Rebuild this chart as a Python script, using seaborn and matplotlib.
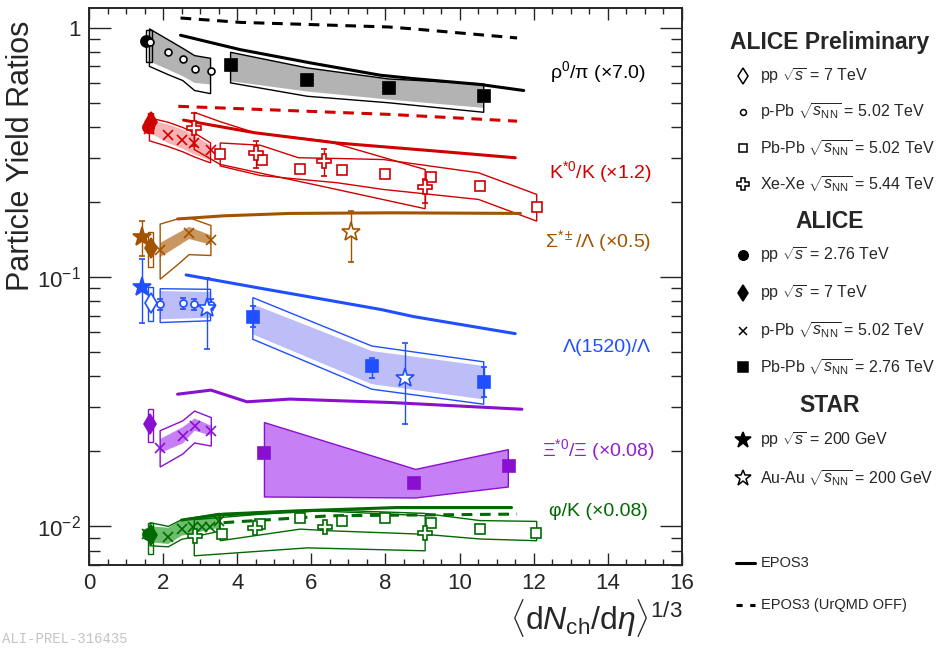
import matplotlib
matplotlib.use("Agg")
import matplotlib.pyplot as plt
import seaborn as sns
from matplotlib.patches import Rectangle
from matplotlib.ticker import FixedLocator, FixedFormatter, LogLocator, MultipleLocator, NullFormatter

# ---------------- values ----------------
# rho0/pi (x7.0)
rho_pp276_x = [1.54]
rho_pp276_y = [0.882]
rho_box = [1.62, 0.731, 0.983]
rho_ppb_x = [1.65, 2.13, 2.53, 2.85, 3.28]
rho_ppb_y = [0.880, 0.797, 0.752, 0.686, 0.673]
rho_ppb_bx = [1.63, 2.13, 2.53, 2.85, 3.28]
rho_ppb_hi = [0.990, 0.896, 0.827, 0.773, 0.754]
rho_ppb_lo = [0.733, 0.680, 0.639, 0.601, 0.592]
rho_ppb_lo_tot = [0.700, 0.649, 0.614, 0.560, 0.544]
rho_pbpb_x = [3.82, 5.89, 8.09, 10.65]
rho_pbpb_y = [0.709, 0.620, 0.574, 0.531]
rho_pbpb_hi = [0.797, 0.690, 0.623, 0.595]
rho_pbpb_lo = [0.610, 0.555, 0.515, 0.477]
rho_pbpb_lo_tot = [0.601, 0.531, 0.500, 0.458]
rho_epos_x = [2.47, 4.08, 5.97, 7.86, 8.76, 10.56, 11.73]
rho_epos_y = [0.933, 0.817, 0.723, 0.645, 0.625, 0.592, 0.560]
rho_off_x = [2.47, 4.08, 8.09, 8.76, 11.55]
rho_off_y = [1.094, 1.051, 1.007, 0.989, 0.910]

# K*0/K (x1.2)
ks_pp276_x = [1.60]
ks_pp276_y = [0.40]
ks_pp7_x = [1.66]
ks_pp7_y = [0.42]
ks_box = [1.66, 0.379, 0.456]
ks_ppb_x = [1.63, 2.13, 2.50, 2.84, 3.28]
ks_ppb_y = [0.391, 0.370, 0.356, 0.345, 0.323]
ks_ppb_bx = [1.63, 2.13, 2.53, 2.85, 3.28]
ks_ppb_hi = [0.425, 0.410, 0.390, 0.370, 0.337]
ks_ppb_lo = [0.380, 0.345, 0.327, 0.310, 0.293]
ks_ppb_hi_tot = [0.435, 0.418, 0.398, 0.378, 0.345]
ks_ppb_lo_tot = [0.352, 0.334, 0.318, 0.303, 0.287]
ks_xexe_x = [2.84, 4.51, 6.34, 9.07]
ks_xexe_y = [0.395, 0.315, 0.293, 0.230]
ks_xexe_elo = [0.335, 0.274, 0.255, 0.198]
ks_xexe_ehi = [0.456, 0.351, 0.327, 0.248]
ks_xexe_bx = [2.84, 3.54, 4.48, 6.42, 9.07]
ks_xexe_hi = [0.458, 0.420, 0.379, 0.351, 0.270]
ks_xexe_lo = [0.325, 0.283, 0.264, 0.229, 0.188]
ks_pbpb_x = [3.54, 4.67, 5.70, 6.82, 8.00, 9.23, 10.55, 12.08]
ks_pbpb_y = [0.313, 0.296, 0.272, 0.270, 0.260, 0.252, 0.232, 0.191]
ks_pbpb_bx = [3.54, 4.62, 5.65, 6.69, 7.95, 10.51, 12.08]
ks_pbpb_hi = [0.345, 0.338, 0.301, 0.299, 0.296, 0.262, 0.2145]
ks_pbpb_lo = [0.279, 0.2555, 0.247, 0.239, 0.2245, 0.2048, 0.1676]
ks_epos_x = [2.55, 4.48, 6.69, 9.38, 11.50]
ks_epos_y = [0.426, 0.379, 0.345, 0.320, 0.301]
ks_off_x = [2.41, 8.13, 11.55]
ks_off_y = [0.484, 0.449, 0.422]

# Sigma*/Lambda (x0.5)
sig_starpp_x = [1.42]
sig_starpp_y = [0.145]
sig_starpp_elo = [0.121]
sig_starpp_ehi = [0.168]
sig_pp7_x = [1.66]
sig_pp7_y = [0.131]
sig_box = [1.66, 0.110, 0.152]
sig_ppb_x = [1.92, 2.70, 3.29]
sig_ppb_y = [0.128, 0.150, 0.141]
sig_ppb_hi = [0.137, 0.159, 0.147]
sig_ppb_lo = [0.120, 0.142, 0.135]
sig_ppb_bx = [1.92, 2.39, 2.70, 3.29]
sig_ppb_hi_tot = [0.163, 0.171, 0.173, 0.161]
sig_ppb_lo_tot = [0.098, 0.112, 0.123, 0.122]
sig_auau_x = [7.06]
sig_auau_y = [0.151]
sig_auau_elo = [0.115]
sig_auau_ehi = [0.184]
sig_epos_x = [2.39, 3.62, 5.42, 8.13, 11.64]
sig_epos_y = [0.171, 0.176, 0.180, 0.181, 0.180]

# Lambda(1520)/Lambda
lam_starpp_x = [1.42]
lam_starpp_y = [0.0915]
lam_starpp_elo = [0.0657]
lam_starpp_ehi = [0.118]
lam_pp7_x = [1.66]
lam_pp7_y = [0.0789]
lam_box = [1.66, 0.0664, 0.0915]
lam_ppb_x = [1.92, 2.53, 2.84, 3.28]
lam_ppb_y = [0.0778, 0.0785, 0.0779, 0.0775]
lam_ppb_elo = [0.0740, 0.0747, 0.0741, 0.0737]
lam_ppb_ehi = [0.0816, 0.0823, 0.0817, 0.0813]
lam_ppb_bx = [1.92, 3.28]
lam_ppb_hi = [0.0879, 0.0871]
lam_ppb_lo = [0.0677, 0.0687]
lam_ppb_hi_tot = [0.0898, 0.0893]
lam_ppb_lo_tot = [0.0657, 0.0668]
lam_auau_x = [3.19, 8.53]
lam_auau_y = [0.0754, 0.0395]
lam_auau_elo = [0.0513, 0.0257]
lam_auau_ehi = [0.0994, 0.0542]
lam_pbpb_x = [4.42, 7.63, 10.65]
lam_pbpb_y = [0.0694, 0.0438, 0.0380]
lam_pbpb_elo = [0.0633, 0.0395, 0.0329]
lam_pbpb_ehi = [0.0762, 0.0475, 0.0434]
lam_pbpb_hi = [0.0778, 0.0505, 0.0440]
lam_pbpb_lo = [0.0589, 0.0372, 0.0323]
lam_pbpb_hi_tot = [0.0827, 0.0529, 0.0457]
lam_pbpb_lo_tot = [0.0563, 0.0355, 0.0309]
lam_epos_x = [2.62, 4.55, 7.86, 8.76, 11.50]
lam_epos_y = [0.102, 0.0906, 0.0742, 0.0694, 0.0593]

# Xi*0/Xi (x0.08)
xi_pp7_x = [1.65]
xi_pp7_y = [0.0257]
xi_box = [1.65, 0.0217, 0.0295]
xi_ppb_x = [1.92, 2.53, 2.85, 3.30]
xi_ppb_y = [0.0207, 0.0231, 0.0253, 0.0241]
xi_ppb_hi = [0.0224, 0.0250, 0.0271, 0.0253]
xi_ppb_lo = [0.0197, 0.0215, 0.0242, 0.0231]
xi_ppb_hi_tot = [0.0242, 0.0265, 0.0290, 0.0273]
xi_ppb_lo_tot = [0.0173, 0.0195, 0.0216, 0.0210]
xi_pbpb_x = [4.72, 8.78, 11.33]
xi_pbpb_y = [0.0197, 0.0149, 0.0175]
xi_pbpb_bx = [4.72, 8.80, 11.30]
xi_pbpb_hi = [0.0262, 0.0170, 0.0204]
xi_pbpb_lo = [0.01318, 0.01306, 0.01445]
xi_epos_x = [2.39, 3.29, 4.26, 5.42, 8.13, 11.68]
xi_epos_y = [0.0339, 0.0352, 0.0316, 0.0324, 0.0314, 0.0295]

# phi/K (x0.08)
phi_pp276_x = [1.60]
phi_pp276_y = [0.0093]
phi_pp7_x = [1.66]
phi_pp7_y = [0.0092]
phi_box = [1.65, 0.00773, 0.01035]
phi_ppb_x = [1.56, 2.14, 2.50, 2.81, 3.04, 3.26, 3.52]
phi_ppb_y = [0.0093, 0.00908, 0.00973, 0.00996, 0.00996, 0.00990, 0.01050]
phi_ppb_bx = [1.65, 2.14, 2.50, 3.52]
phi_ppb_hi = [0.0100, 0.00988, 0.0106, 0.01103]
phi_ppb_lo = [0.00863, 0.0085, 0.00917, 0.00988]
phi_ppb_hi_tot = [0.01035, 0.0100, 0.01064, 0.01128]
phi_ppb_lo_tot = [0.00836, 0.00828, 0.00887, 0.00956]
phi_xexe_x = [2.86, 4.48, 6.37, 9.07]
phi_xexe_y = [0.00917, 0.00988, 0.00996, 0.00945]
phi_xexe_bx = [2.84, 5.90, 9.07]
phi_xexe_hi = [0.01064, 0.0116, 0.01103]
phi_xexe_lo = [0.00762, 0.0082, 0.00798]
phi_pbpb_x = [3.58, 4.62, 5.68, 6.82, 8.00, 9.23, 10.55, 12.07]
phi_pbpb_y = [0.0093, 0.0102, 0.0108, 0.01047, 0.0108, 0.0103, 0.00973, 0.0094]
phi_pbpb_bx = [3.54, 5.70, 6.51, 9.03, 10.55, 12.08]
phi_pbpb_hi = [0.01103, 0.0114, 0.01162, 0.01128, 0.01055, 0.01047]
phi_pbpb_lo = [0.00876, 0.00975, 0.0096, 0.0093, 0.0089, 0.00876]
phi_epos_x = [2.50, 3.63, 5.60, 8.30, 11.40]
phi_epos_y = [0.0106, 0.0112, 0.01154, 0.0119, 0.0119]
phi_off_x = [3.63, 6.51, 11.55]
phi_off_y = [0.01035, 0.01103, 0.0112]

# species labels (text, x, y, colour)
labels = [
    (r"ρ$^{0}$/π (×7.0)", 15.04, 0.667, "black"),
    (r"K$^{*0}$/K (×1.2)", 15.17, 0.263, "#d10000"),
    (r"Σ$^{*\pm}$/Λ (×0.5)", 15.17, 0.139, "#a35200"),
    (r"Λ(1520)/Λ", 15.17, 0.0523, "#1f4fff"),
    (r"Ξ$^{*0}$/Ξ (×0.08)", 15.28, 0.0202, "#9020d0"),
    (r"φ/K (×0.08)", 15.09, 0.0115, "#006a00"),
]

RED, PINK = "#d10000", "#f7b3b3"
BROWN, TAN = "#a35200", "#c9975f"
BLUE, LBLUE = "#1f4fff", "#bdbdf7"
PURPLE, VIOLET = "#8a10d0", "#c77ff5"
GREEN, LGREEN = "#006a00", "#6cbd6c"
GRAY = "#b3b3b3"

STYLE = {
    "pp7": dict(marker="d", ms=10, filled=True),
    "pp7_open": dict(marker="d", ms=10, filled=False),
    "ppb": dict(marker="x", ms=7, filled=True),
    "ppb_open": dict(marker="o", ms=5, filled=False),
    "pbpb502": dict(marker="s", ms=7.5, filled=False),
    "xexe": dict(marker="P", ms=10, filled=False),
    "pp276": dict(marker="o", ms=8, filled=True),
    "pbpb276": dict(marker="s", ms=8, filled=True),
    "star_pp": dict(marker="*", ms=14, filled=True),
    "star_auau": dict(marker="*", ms=14, filled=False),
}

sns.set_style("ticks")
plt.rcParams["font.family"] = ["Liberation Sans", "DejaVu Sans"]
plt.rcParams["mathtext.fontset"] = "custom"
plt.rcParams["mathtext.rm"] = "Liberation Sans"
plt.rcParams["mathtext.it"] = "Liberation Sans:italic"
plt.rcParams["mathtext.bf"] = "Liberation Sans:bold"
plt.rcParams["axes.linewidth"] = 1.4


def fill_band(ax, x, lo, hi, color, edge=None):
    ax.fill_between(x, lo, hi, facecolor=color, edgecolor=edge or "none",
                    lw=1.0, zorder=1)


def outline(ax, x, lo, hi, color):
    px = list(x) + list(x)[::-1]
    py = list(hi) + list(lo)[::-1]
    ax.fill(px, py, facecolor="none", edgecolor=color, lw=1.0, zorder=2)


def box(ax, b, color):
    x, lo, hi = b
    ax.add_patch(Rectangle((x - 0.07, lo), 0.14, hi - lo, fill=False,
                           ec=color, lw=1.0, zorder=3))


def points(ax, x, y, kind, color, lo=None, hi=None):
    st = STYLE[kind]
    yerr = None
    if lo is not None:
        yerr = [[b - a for a, b in zip(lo, y)], [a - b for a, b in zip(hi, y)]]
    ax.errorbar(x, y, yerr=yerr, fmt=st["marker"], ms=st["ms"], color=color,
                mfc=color if st["filled"] else "white", mec=color, mew=1.2,
                elinewidth=1.0, capsize=2.5, zorder=5)


def model(ax, x, y, color, dashed=False):
    ls = (0, (3.5, 2.5)) if dashed else "-"
    sns.lineplot(x=x, y=y, color=color, lw=2.2, linestyle=ls, ax=ax, zorder=3)


fig = plt.figure(figsize=(9.37, 6.48), dpi=100)
ax = fig.add_axes([89 / 937, 83 / 648, 593 / 937, 557 / 648])

# rho0/pi
fill_band(ax, rho_ppb_bx, rho_ppb_lo, rho_ppb_hi, GRAY)
outline(ax, rho_ppb_bx, rho_ppb_lo_tot, rho_ppb_hi, "black")
fill_band(ax, rho_pbpb_x, rho_pbpb_lo, rho_pbpb_hi, GRAY)
outline(ax, rho_pbpb_x, rho_pbpb_lo_tot, rho_pbpb_hi, "black")
box(ax, rho_box, "black")
model(ax, rho_epos_x, rho_epos_y, "black")
model(ax, rho_off_x, rho_off_y, "black", dashed=True)
points(ax, rho_pp276_x, rho_pp276_y, "pp276", "black")
points(ax, rho_ppb_x, rho_ppb_y, "ppb_open", "black")
points(ax, rho_pbpb_x, rho_pbpb_y, "pbpb276", "black")

# K*0/K
fill_band(ax, ks_ppb_bx, ks_ppb_lo, ks_ppb_hi, PINK)
outline(ax, ks_ppb_bx, ks_ppb_lo_tot, ks_ppb_hi_tot, RED)
outline(ax, ks_xexe_bx, ks_xexe_lo, ks_xexe_hi, RED)
outline(ax, ks_pbpb_bx, ks_pbpb_lo, ks_pbpb_hi, RED)
box(ax, ks_box, RED)
model(ax, ks_epos_x, ks_epos_y, RED)
model(ax, ks_off_x, ks_off_y, RED, dashed=True)
points(ax, ks_pp276_x, ks_pp276_y, "pp276", RED)
points(ax, ks_pp7_x, ks_pp7_y, "pp7", RED)
points(ax, ks_ppb_x, ks_ppb_y, "ppb", RED)
points(ax, ks_pbpb_x, ks_pbpb_y, "pbpb502", RED)
points(ax, ks_xexe_x, ks_xexe_y, "xexe", RED, ks_xexe_elo, ks_xexe_ehi)

# Sigma*/Lambda
fill_band(ax, sig_ppb_x, sig_ppb_lo, sig_ppb_hi, TAN)
outline(ax, sig_ppb_bx, sig_ppb_lo_tot, sig_ppb_hi_tot, BROWN)
box(ax, sig_box, BROWN)
model(ax, sig_epos_x, sig_epos_y, BROWN)
points(ax, sig_starpp_x, sig_starpp_y, "star_pp", BROWN, sig_starpp_elo, sig_starpp_ehi)
points(ax, sig_pp7_x, sig_pp7_y, "pp7", BROWN)
points(ax, sig_ppb_x, sig_ppb_y, "ppb", BROWN)
points(ax, sig_auau_x, sig_auau_y, "star_auau", BROWN, sig_auau_elo, sig_auau_ehi)

# Lambda(1520)/Lambda
fill_band(ax, lam_ppb_bx, lam_ppb_lo, lam_ppb_hi, LBLUE)
outline(ax, lam_ppb_bx, lam_ppb_lo_tot, lam_ppb_hi_tot, BLUE)
fill_band(ax, lam_pbpb_x, lam_pbpb_lo, lam_pbpb_hi, LBLUE)
outline(ax, lam_pbpb_x, lam_pbpb_lo_tot, lam_pbpb_hi_tot, BLUE)
box(ax, lam_box, BLUE)
model(ax, lam_epos_x, lam_epos_y, BLUE)
points(ax, lam_starpp_x, lam_starpp_y, "star_pp", BLUE, lam_starpp_elo, lam_starpp_ehi)
points(ax, lam_pp7_x, lam_pp7_y, "pp7_open", BLUE)
points(ax, lam_ppb_x, lam_ppb_y, "ppb_open", BLUE, lam_ppb_elo, lam_ppb_ehi)
points(ax, lam_auau_x, lam_auau_y, "star_auau", BLUE, lam_auau_elo, lam_auau_ehi)
points(ax, lam_pbpb_x, lam_pbpb_y, "pbpb276", BLUE, lam_pbpb_elo, lam_pbpb_ehi)

# Xi*0/Xi
fill_band(ax, xi_ppb_x, xi_ppb_lo, xi_ppb_hi, VIOLET)
outline(ax, xi_ppb_x, xi_ppb_lo_tot, xi_ppb_hi_tot, PURPLE)
fill_band(ax, xi_pbpb_bx, xi_pbpb_lo, xi_pbpb_hi, VIOLET, edge=PURPLE)
box(ax, xi_box, PURPLE)
model(ax, xi_epos_x, xi_epos_y, PURPLE)
points(ax, xi_pp7_x, xi_pp7_y, "pp7", PURPLE)
points(ax, xi_ppb_x, xi_ppb_y, "ppb", PURPLE)
points(ax, xi_pbpb_x, xi_pbpb_y, "pbpb276", PURPLE)

# phi/K
fill_band(ax, phi_ppb_bx, phi_ppb_lo, phi_ppb_hi, LGREEN)
outline(ax, phi_ppb_bx, phi_ppb_lo_tot, phi_ppb_hi_tot, GREEN)
outline(ax, phi_xexe_bx, phi_xexe_lo, phi_xexe_hi, GREEN)
outline(ax, phi_pbpb_bx, phi_pbpb_lo, phi_pbpb_hi, GREEN)
box(ax, phi_box, GREEN)
model(ax, phi_epos_x, phi_epos_y, GREEN)
model(ax, phi_off_x, phi_off_y, GREEN, dashed=True)
points(ax, phi_pp276_x, phi_pp276_y, "pp276", GREEN)
points(ax, phi_pp7_x, phi_pp7_y, "pp7", GREEN)
points(ax, phi_ppb_x, phi_ppb_y, "ppb", GREEN)
points(ax, phi_pbpb_x, phi_pbpb_y, "pbpb502", GREEN)
points(ax, phi_xexe_x, phi_xexe_y, "xexe", GREEN)

for text, lx, ly, c in labels:
    ax.text(lx, ly, text, ha="right", va="center", fontsize=14, color=c)

# axes
ax.set_yscale("log")
ax.set_xlim(0, 16)
ax.set_ylim(0.007, 1.2)
ax.xaxis.set_major_locator(MultipleLocator(2))
ax.xaxis.set_minor_locator(MultipleLocator(0.5))
ax.yaxis.set_major_locator(FixedLocator([0.01, 0.1, 1]))
ax.yaxis.set_major_formatter(FixedFormatter([r"$10^{-2}$", r"$10^{-1}$", "1"]))
ax.yaxis.set_minor_locator(LogLocator(base=10, subs=range(2, 10)))
ax.yaxis.set_minor_formatter(NullFormatter())
ax.tick_params(which="both", direction="in", top=True, right=True, width=1.0,
               labelsize=16)
ax.tick_params(axis="x", which="major", length=8.5, pad=6)
ax.tick_params(axis="x", which="minor", length=4.5)
ax.tick_params(axis="y", which="major", length=16, pad=6)
ax.tick_params(axis="y", which="minor", length=8)
ax.set_ylabel("Particle Yield Ratios", fontsize=22, loc="top")
ax.yaxis.set_label_coords(-0.089, 0.978)
ax.set_xlabel(r"$\langle \mathrm{d}N_{\mathrm{ch}}/\mathrm{d}\eta\rangle^{1/3}$",
              fontsize=23, loc="right")
ax.xaxis.set_label_coords(1.0, -0.057)

# legend drawn in pixel coordinates on an overlay
lax = fig.add_axes([0, 0, 1, 1])
lax.set_xlim(0, 937)
lax.set_ylim(648, 0)
lax.axis("off")

legend_rows = [
    ("ALICE Preliminary", 43, None),
    (r"pp $\sqrt{s}$ = 7 TeV", 76, "pp7_open"),
    (r"p-Pb $\sqrt{s_{\rm NN}}$ = 5.02 TeV", 112, "ppb_open"),
    (r"Pb-Pb $\sqrt{s_{\rm NN}}$ = 5.02 TeV", 148, "pbpb502"),
    (r"Xe-Xe $\sqrt{s_{\rm NN}}$ = 5.44 TeV", 184, "xexe"),
    ("ALICE", 222, None),
    (r"pp $\sqrt{s}$ = 2.76 TeV", 255, "pp276"),
    (r"pp $\sqrt{s}$ = 7 TeV", 293, "pp7"),
    (r"p-Pb $\sqrt{s_{\rm NN}}$ = 5.02 TeV", 331, "ppb"),
    (r"Pb-Pb $\sqrt{s_{\rm NN}}$ = 2.76 TeV", 367, "pbpb276"),
    ("STAR", 405, None),
    (r"pp $\sqrt{s}$ = 200 GeV", 440, "star_pp"),
    (r"Au-Au $\sqrt{s_{\rm NN}}$ = 200 GeV", 478, "star_auau"),
]
for text, py, kind in legend_rows:
    if kind is None:
        lax.text(830, py, text, ha="center", va="center", fontsize=16.5,
                 fontweight="bold")
        continue
    st = STYLE[kind]
    lax.plot([743], [py], ls="none", marker=st["marker"], ms=st["ms"] * 0.85,
             color="black", mfc="black" if st["filled"] else "white",
             mec="black", mew=1.1)
    lax.text(760, py, text, ha="left", va="center", fontsize=11.5)

lax.plot([736, 755], [563, 563], color="black", lw=2.2)
lax.plot([736, 755], [605, 605], color="black", lw=2.2, ls=(0, (2.0, 2.5)))
lax.text(761, 563, "EPOS3", ha="left", va="center", fontsize=10.5)
lax.text(761, 605, "EPOS3 (UrQMD OFF)", ha="left", va="center", fontsize=10.5)
lax.text(2, 646, "ALI-PREL-316435", ha="left", va="bottom", fontsize=10,
         family="Liberation Mono", color="#c4c4c4")

fig.savefig("out.png", dpi=100)
